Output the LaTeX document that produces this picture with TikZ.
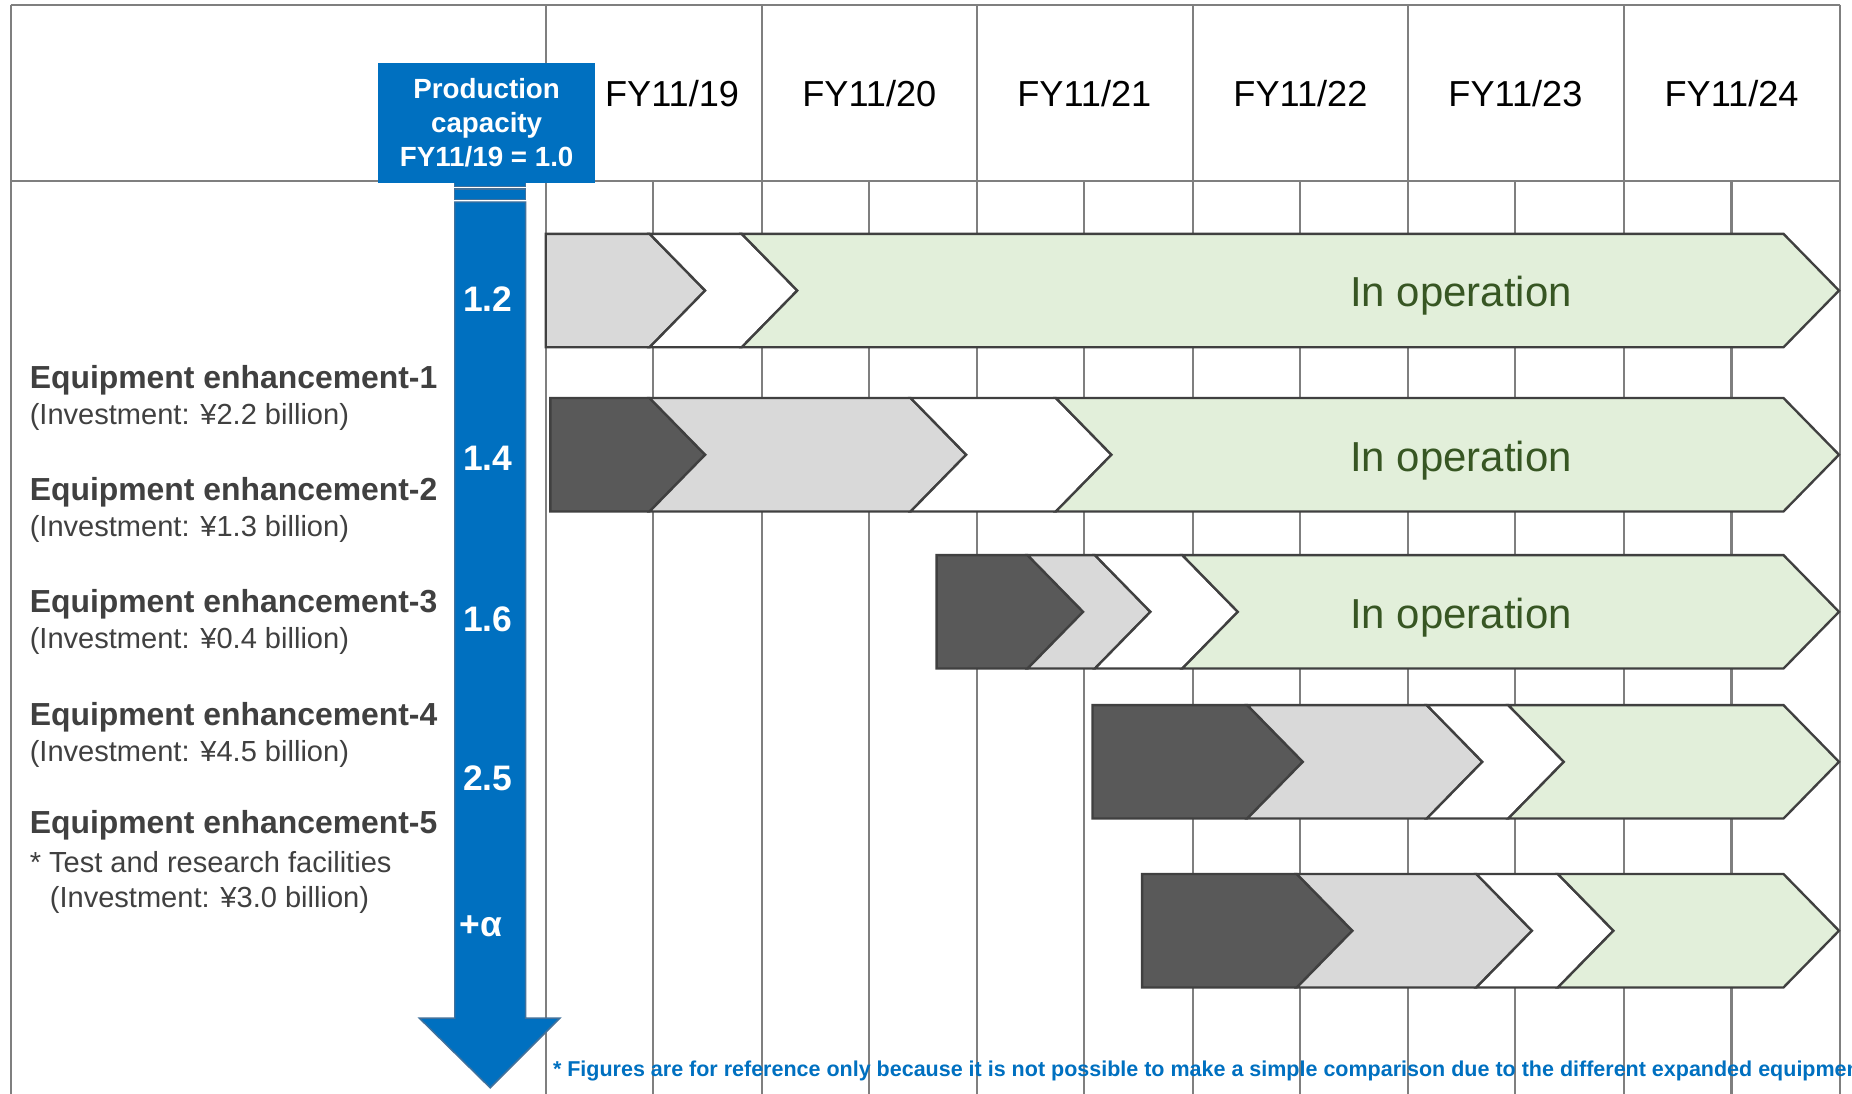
\documentclass[tikz,border=0pt]{standalone}
\usepackage{fontspec}
\setmainfont{Liberation Sans}
\usetikzlibrary{positioning}

\definecolor{gridgray}{HTML}{7F7F7F}
\definecolor{segline}{HTML}{404040}
\definecolor{segdark}{HTML}{595959}
\definecolor{seglight}{HTML}{D9D9D9}
\definecolor{seggreen}{HTML}{E2EFDA}
\definecolor{opgreen}{HTML}{375623}
\definecolor{capblue}{HTML}{0070C0}
\definecolor{shaftline}{HTML}{41719C}
\definecolor{labtext}{HTML}{404040}

% chevron pieces: fill, left x, right x (top corner), centre y
\newcommand{\segflat}[4]{%
  \filldraw[seg, fill=#1] (#2,#4-48) -- (#3,#4-48) -- (#3+47,#4) -- (#3,#4+48) -- (#2,#4+48) -- cycle;}
\newcommand{\segnotch}[4]{%
  \filldraw[seg, fill=#1] (#2,#4-48) -- (#3,#4-48) -- (#3+47,#4) -- (#3,#4+48) -- (#2,#4+48) -- (#2+47,#4) -- cycle;}

\begin{document}
\begin{tikzpicture}[
  x=1pt, y=-1pt,
  gridline/.style={draw=gridgray, line width=1.8pt},
  seg/.style={draw=segline, line width=2pt},
  year/.style={font=\fontsize{30.6}{36}\selectfont, text=black, inner sep=0pt},
  lab/.style={anchor=west, inner sep=0pt, font=\fontsize{27}{32}\selectfont\bfseries, text=labtext},
  inv/.style={anchor=west, inner sep=0pt, font=\fontsize{24.6}{30}\selectfont, text=labtext},
  val/.style={font=\fontsize{30}{36}\selectfont\bfseries, text=white, inner sep=0pt},
  oper/.style={font=\fontsize{35.5}{42}\selectfont, text=opgreen, inner sep=0pt},
  capbox/.style={fill=capblue, minimum width=184pt, minimum height=102pt, inner sep=0pt,
                 align=center, text=white, font=\fontsize{23.5}{28.5}\selectfont\bfseries},
  shaft/.style={fill=capblue, draw=shaftline, line width=1.2pt},
  note/.style={anchor=west, inner sep=0pt, font=\fontsize{18.2}{22}\selectfont\bfseries, text=capblue}
]
\useasboundingbox (0,0) rectangle (1568,926);

% ===== Table grid =====
\draw[gridline] (9,4) -- (1558,4);
\draw[gridline] (9,153) -- (1558,153);
\draw[gridline] (9,4) -- (9,926);
\draw[gridline] (1558,4) -- (1558,926);
\foreach \gx in {462,645,827,1010,1192,1375}
  \draw[gridline] (\gx,4) -- (\gx,926);
\foreach \gx in {553,736,918,1101,1283,1466}
  \draw[gridline] (\gx,153) -- (\gx,926);

% ===== Schedule chevrons =====
% ----- enhancement-1 -----
\segflat{seglight}{462}{550}{246}
\segnotch{white}{550}{628}{246}
\segnotch{seggreen}{628}{1510}{246}
% ----- enhancement-2 -----
\segflat{segdark}{466}{550}{385}
\segnotch{seglight}{550}{771}{385}
\segnotch{white}{771}{894}{385}
\segnotch{seggreen}{894}{1510}{385}
% ----- enhancement-3 -----
\segflat{segdark}{793}{870}{518}
\segnotch{seglight}{870}{927}{518}
\segnotch{white}{927}{1001}{518}
\segnotch{seggreen}{1001}{1510}{518}
% ----- enhancement-4 -----
\segflat{segdark}{925}{1056}{645}
\segnotch{seglight}{1056}{1208}{645}
\segnotch{white}{1208}{1277}{645}
\segnotch{seggreen}{1277}{1510}{645}
% ----- enhancement-5 -----
\segflat{segdark}{967}{1098}{788}
\segnotch{seglight}{1098}{1250}{788}
\segnotch{white}{1250}{1319}{788}
\segnotch{seggreen}{1319}{1510}{788}

\node[oper] (op1) at (1237,250) {In operation};
\node[oper] (op2) at (1237,390) {In operation};
\node[oper] (op3) at (1237,523) {In operation};

% ===== Capacity arrow =====
\filldraw[shaft] (385,150) rectangle (445,158);
\filldraw[shaft] (385,160) rectangle (445,169);
\filldraw[shaft] (385,171) -- (445,171) -- (445,862) -- (474,862) -- (415,921)
  -- (355,862) -- (385,862) -- cycle;
\node[capbox] (cap) at (412,104) {Production\\capacity\\FY11/19 = 1.0};

\foreach \v/\cy/\nm in {1.2/253/a, 1.4/388/b, 1.6/524/c, 2.5/659/d}
  \node[val] (val\nm) at (413,\cy) {\v};
\node[val] (vale) at (407,784) {+α};

% ===== Year header =====
\node[year] (fy19) at (569,79) {FY11/19};
\foreach \yr/\cx in {20/736, 21/918, 22/1101, 23/1283, 24/1466}
  \node[year] (fy\yr) at (\cx,79) {FY11/\yr};

% ===== Left labels =====
\node[lab] (lab1) at (25,322) {Equipment enhancement-1};
\node[inv] (inv1) at ([yshift=-31pt]lab1.west) {(Investment: ¥2.2 billion)};
\node[lab] (lab2) at (25,417) {Equipment enhancement-2};
\node[inv] (inv2) at ([yshift=-31pt]lab2.west) {(Investment: ¥1.3 billion)};
\node[lab] (lab3) at (25,512) {Equipment enhancement-3};
\node[inv] (inv3) at ([yshift=-31pt]lab3.west) {(Investment: ¥0.4 billion)};
\node[lab] (lab4) at (25,607) {Equipment enhancement-4};
\node[inv] (inv4) at ([yshift=-31pt]lab4.west) {(Investment: ¥4.5 billion)};
\node[lab] (lab5) at (25,699) {Equipment enhancement-5};
\node[inv] (test5) at ([yshift=-31pt]lab5.west) {* Test and research facilities};
\node[inv] (inv5) at ([xshift=17pt,yshift=-63pt]lab5.west) {(Investment: ¥3.0 billion)};

% ===== Footnote (runs past the right edge) =====
\begin{scope}
\clip (0,0) rectangle (1568,926);
\node[note] (foot) at (468,907) {* Figures are for reference only because it is not possible to make a simple comparison due to the different expanded equipment};
\end{scope}
\end{tikzpicture}
\end{document}
